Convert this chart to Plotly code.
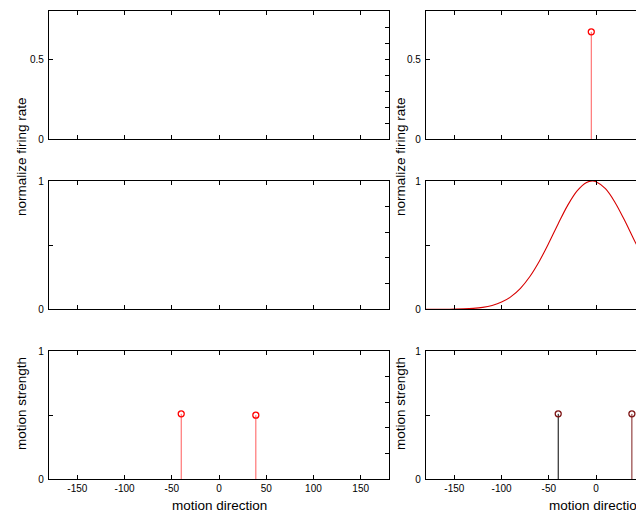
import plotly.graph_objects as go

# ---------------- data ----------------
xtick_vals = [-150, -100, -50, 0, 50, 100, 150]
xtick_text = ["-150", "-100", "-50", "0", "50", "100", "150"]

# top-right: response stem
resp_x = [-5]
resp_y = [0.67]

# middle-right: tuning curve
curve_x = [-180, -170, -160, -150, -140, -130, -120, -110, -100, -90, -80, -70,
           -60, -50, -40, -30, -20, -10, -4, 0, 10, 20, 30, 40, 50]
curve_y = [0.000, 0.000, 0.0005, 0.0013, 0.003, 0.007, 0.015, 0.030, 0.056, 0.099,
           0.164, 0.256, 0.375, 0.516, 0.667, 0.810, 0.923, 0.989, 1.000, 0.995,
           0.940, 0.835, 0.697, 0.546, 0.402]

# bottom-left: stimulus motion strengths
stim_x = [-40, 39]
stim_y = [0.51, 0.50]

# bottom-right: estimated motion strengths
est_x = [-40, 38]
est_y = [0.51, 0.51]
est_line_colors = ["black", "rgb(125,30,30)"]

W, H = 636, 513
LX = (49, 389)
RX = (426, 766)
ROWS = [(11, 139.3), (181, 309.3), (351, 479.3)]

def xd(px):
    return [px[0] / W, min(px[1] / W, 1.0)]

def yd(r):
    return [1 - r[1] / H, 1 - r[0] / H]

right_xmax = -180 + 360 * (W - RX[0]) / (RX[1] - RX[0])

fig = go.Figure()

def stems(xs, ys, xa, ya, line_colors, marker_color):
    for x, y, lc in zip(xs, ys, line_colors):
        fig.add_trace(go.Scatter(x=[x, x], y=[0, y], mode="lines",
                                 line=dict(color=lc, width=1),
                                 xaxis=xa, yaxis=ya, showlegend=False,
                                 hoverinfo="skip"))
    fig.add_trace(go.Scatter(x=xs, y=ys, mode="markers",
                             marker=dict(symbol="circle-open", size=6,
                                         color=marker_color,
                                         line=dict(width=1.3, color=marker_color)),
                             xaxis=xa, yaxis=ya, showlegend=False,
                             hoverinfo="skip"))

# dummy traces so every axis renders
for xa, ya in [("x", "y"), ("x3", "y3"), ("x5", "y5"), ("x", "y7"), ("x3", "y8"),
               ("x5", "y9"), ("x2", "y2"), ("x4", "y4"), ("x6", "y6")]:
    fig.add_trace(go.Scatter(x=[None], y=[None], xaxis=xa, yaxis=ya,
                             showlegend=False, hoverinfo="skip"))

stems(resp_x, resp_y, "x2", "y2", ["rgb(255,90,90)"], "red")
fig.add_trace(go.Scatter(x=curve_x, y=curve_y, mode="lines", line_shape="spline",
                         line=dict(color="rgb(215,0,0)", width=1.1),
                         xaxis="x4", yaxis="y4", showlegend=False, hoverinfo="skip"))
stems(stim_x, stim_y, "x5", "y5", ["rgb(255,90,90)"] * 2, "red")
stems(est_x, est_y, "x6", "y6", est_line_colors, "rgb(125,20,20)")

tickfont = dict(family="Liberation Sans, Arial, sans-serif", size=10, color="black")

def xaxis(dom, rng, labels, anchor):
    return dict(domain=dom, range=rng, anchor=anchor, showline=True, linecolor="black",
                linewidth=1.2, mirror="ticks", ticks="inside", ticklen=4, tickwidth=1,
                tickcolor="black", tickvals=xtick_vals,
                ticktext=xtick_text, showticklabels=labels, showgrid=False,
                zeroline=False, tickfont=tickfont, fixedrange=True, automargin=False)

def yaxis(dom, rng, vals, text, anchor):
    return dict(domain=dom, range=rng, showline=True, linecolor="black", linewidth=1.2,
                mirror=False, ticks="inside", ticklen=4, tickwidth=1,
                tickcolor="black", tickvals=vals, ticktext=text, showgrid=False,
                zeroline=False, tickfont=tickfont, anchor=anchor, fixedrange=True,
                ticklabelstandoff=2, automargin=False)

def yright(over, anchor, rng, vals):
    return dict(overlaying=over, side="right", anchor=anchor, range=rng,
                showline=True, linecolor="black", linewidth=1.2, ticks="inside",
                ticklen=4, tickwidth=1, tickcolor="black", tickvals=vals,
                showticklabels=False, showgrid=False, zeroline=False, fixedrange=True,
                automargin=False)

r1_vals, r1_text = [0, 0.5], ["0", "0.5"]
r23_vals, r23_text = [0, 0.5, 1], ["0", "", "1"]

fig.update_layout(
    template="none",
    width=W, height=H, margin=dict(l=0, r=0, t=0, b=0, pad=0, autoexpand=False),
    paper_bgcolor="white", plot_bgcolor="white",
    xaxis=xaxis(xd(LX), [-180, 180], False, "y"),
    yaxis=yaxis(yd(ROWS[0]), [0, 0.8], r1_vals, r1_text, "x"),
    xaxis2=xaxis(xd(RX), [-180, right_xmax], False, "y2"),
    yaxis2=yaxis(yd(ROWS[0]), [0, 0.8], r1_vals, r1_text, "x2"),
    xaxis3=xaxis(xd(LX), [-180, 180], False, "y3"),
    yaxis3=yaxis(yd(ROWS[1]), [0, 1], r23_vals, r23_text, "x3"),
    xaxis4=xaxis(xd(RX), [-180, right_xmax], False, "y4"),
    yaxis4=yaxis(yd(ROWS[1]), [0, 1], r23_vals, r23_text, "x4"),
    xaxis5=xaxis(xd(LX), [-180, 180], True, "y5"),
    yaxis5=yaxis(yd(ROWS[2]), [0, 1], r23_vals, r23_text, "x5"),
    xaxis6=xaxis(xd(RX), [-180, right_xmax], True, "y6"),
    yaxis6=yaxis(yd(ROWS[2]), [0, 1], r23_vals, r23_text, "x6"),
    yaxis7=yright("y", "x", [0, 0.8], [0.1 * i for i in range(9)]),
    yaxis8=yright("y3", "x3", [0, 1], [0.2 * i for i in range(6)]),
    yaxis9=yright("y5", "x5", [0, 1], [0.2 * i for i in range(6)]),
)

titlefont = dict(family="Liberation Sans, Arial, sans-serif", size=13.5, color="black")
ann = []
for xpx in (21, 400):
    ann.append(dict(text="normalize firing rate", x=xpx / W, y=1 - 157 / H,
                    xref="paper", yref="paper", showarrow=False, textangle=-90,
                    font=titlefont, xanchor="center", yanchor="middle"))
    ann.append(dict(text="motion strength", x=xpx / W, y=1 - 404 / H,
                    xref="paper", yref="paper", showarrow=False, textangle=-90,
                    font=titlefont, xanchor="center", yanchor="middle"))
for xpx in (219, 596):
    ann.append(dict(text="motion direction", x=xpx / W, y=1 - 505 / H,
                    xref="paper", yref="paper", showarrow=False,
                    font=titlefont, xanchor="center", yanchor="middle"))
fig.update_layout(annotations=ann)

fig.write_html("out.html")
